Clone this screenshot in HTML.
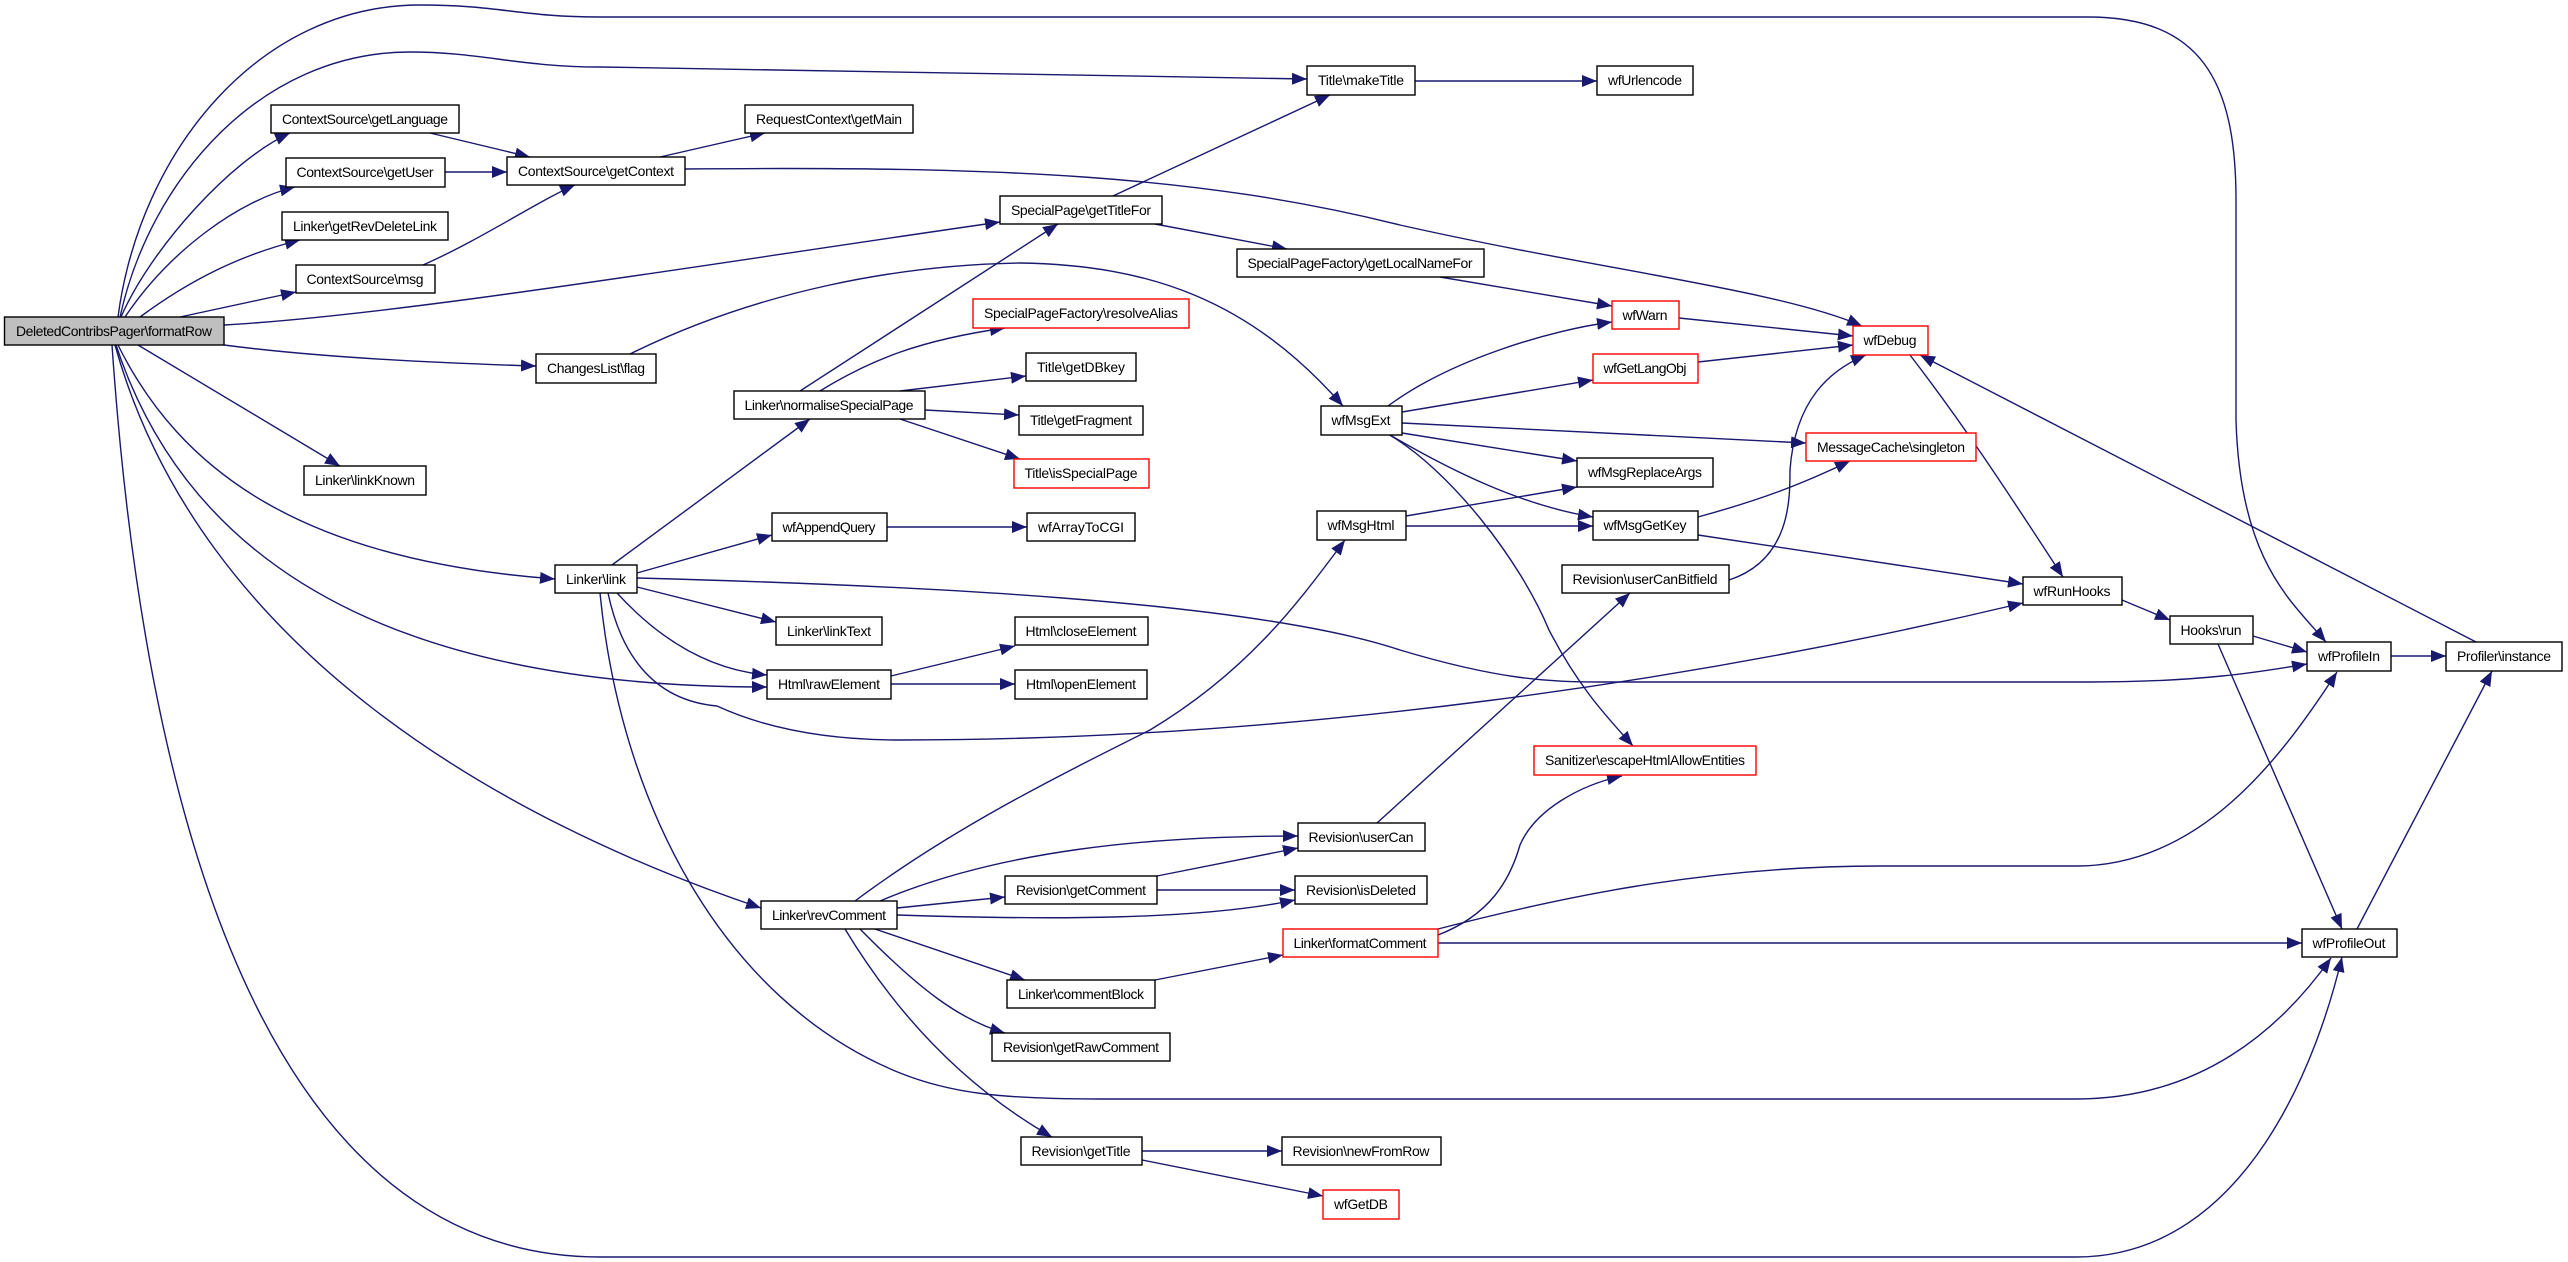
<!DOCTYPE html>
<html><head><meta charset="utf-8"><style>html,body{margin:0;padding:0;background:#fff}svg{display:block}text{font-family:"Liberation Sans",Arial,sans-serif;font-size:14px;fill:#000}</style></head><body>
<svg width="2568" height="1262" viewBox="0 0 2568 1262" xmlns="http://www.w3.org/2000/svg">
<defs><marker id="a" markerUnits="userSpaceOnUse" markerWidth="16" markerHeight="12" refX="15" refY="6" orient="auto"><path d="M0,0 L15,6 L0,12 z" fill="#191970"/></marker></defs>
<g fill="none" stroke="#191970" stroke-width="1.4" marker-end="url(#a)">
<path d="M118,317 C140,150 260,5 420,5 C500,5 520,17 600,17 L2088,17 C2200,17 2236,80 2236,200 L2236,420 C2240,560 2290,600 2326,642"/>
<path d="M120,317 C150,180 260,52 410,52 C480,52 520,67 600,67 L1307,79"/>
<path d="M121,317 C150,250 230,160 290,133"/>
<path d="M125,317 C170,250 240,200 295,187"/>
<path d="M140,317 C190,280 240,255 300,240"/>
<path d="M180,317 L296,292"/>
<path d="M224,325 C400,315 700,265 1000,222"/>
<path d="M224,345 C300,355 400,362 536,366"/>
<path d="M138,345 L340,466"/>
<path d="M118,345 C180,470 300,560 555,579"/>
<path d="M116,345 C200,600 450,687 767,687"/>
<path d="M115,345 C200,650 500,820 761,908"/>
<path d="M112,345 C150,900 300,1257 600,1257 L2076,1257 C2250,1257 2320,1050 2342,957"/>
<path d="M430,133 L530,157"/>
<path d="M445,172 L507,172"/>
<path d="M423,265 C480,240 540,200 575,185"/>
<path d="M660,157 L765,133"/>
<path d="M685,169 C1000,166 1200,175 1400,225 C1600,270 1780,290 1862,326"/>
<path d="M1113,196 L1330,95"/>
<path d="M1155,224 L1287,249"/>
<path d="M1440,277 L1612,306"/>
<path d="M1415,81 L1597,81"/>
<path d="M630,354 C760,290 900,265 1020,263 C1150,265 1250,300 1343,406"/>
<path d="M800,391 L1058,224"/>
<path d="M820,391 C870,360 920,340 1005,328"/>
<path d="M900,391 L1026,376"/>
<path d="M925,410 L1019,415"/>
<path d="M900,419 L1020,459"/>
<path d="M612,565 L810,419"/>
<path d="M637,573 L772,535"/>
<path d="M637,587 L776,622"/>
<path d="M617,593 C660,640 710,670 767,675"/>
<path d="M637,578 C900,585 1250,600 1400,650 C1500,680 1550,682 1600,682 L2090,682 C2200,682 2260,672 2307,664"/>
<path d="M608,593 C620,650 650,700 717,706 C780,735 850,740 900,740 C1300,740 1700,680 2023,603"/>
<path d="M600,593 C620,800 720,1000 900,1073 C950,1093 1000,1099 1100,1099 L2076,1099 C2200,1099 2280,1030 2331,958"/>
<path d="M891,676 L1015,646"/>
<path d="M891,684 L1015,684"/>
<path d="M887,527 L1027,527"/>
<path d="M855,901 C950,830 1050,780 1150,730 C1250,670 1300,600 1345,540"/>
<path d="M880,901 C1000,850 1150,836 1298,836"/>
<path d="M897,908 L1005,897"/>
<path d="M897,915 C1050,920 1200,920 1295,900"/>
<path d="M875,929 L1025,980"/>
<path d="M860,929 C920,990 960,1020 1005,1033"/>
<path d="M845,929 C900,1020 970,1090 1052,1137"/>
<path d="M1157,876 L1298,848"/>
<path d="M1157,890 L1295,890"/>
<path d="M1155,980 L1283,955"/>
<path d="M1438,935 C1490,915 1510,880 1520,845 C1535,810 1580,785 1622,776"/>
<path d="M1438,929 C1550,900 1700,866 1880,866 L2076,866 C2200,866 2280,760 2337,672"/>
<path d="M1438,943 L2302,943"/>
<path d="M1142,1151 L1282,1151"/>
<path d="M1142,1160 L1323,1196"/>
<path d="M1377,823 L1630,593"/>
<path d="M1729,580 C1790,560 1790,500 1790,470 C1795,400 1830,370 1866,355"/>
<path d="M1388,406 C1450,360 1550,330 1612,322"/>
<path d="M1402,412 L1593,380"/>
<path d="M1402,423 L1806,443"/>
<path d="M1402,433 L1577,461"/>
<path d="M1390,435 C1450,470 1520,505 1593,517"/>
<path d="M1388,434 C1450,470 1520,560 1549,630 C1580,690 1610,720 1633,746"/>
<path d="M1406,516 L1577,487"/>
<path d="M1406,526 L1593,526"/>
<path d="M1698,517 C1760,500 1800,485 1850,461"/>
<path d="M1698,535 L2023,584"/>
<path d="M1679,318 L1853,336"/>
<path d="M1698,362 L1853,345"/>
<path d="M1910,355 C1960,420 2000,480 2063,577"/>
<path d="M2476,642 L1920,355"/>
<path d="M2122,600 L2170,620"/>
<path d="M2253,636 L2307,652"/>
<path d="M2218,644 L2342,929"/>
<path d="M2391,656 L2446,656"/>
<path d="M2357,929 L2492,671"/>
</g>
<g stroke-width="1.4">
<rect x="4.5" y="317" width="219.5" height="28" fill="#bfbfbf" stroke="#000"/>
<g fill="#fff" stroke="#000">
<rect x="271" y="105" width="188" height="28"/>
<rect x="286" y="158" width="159" height="29"/>
<rect x="282" y="212" width="166" height="28"/>
<rect x="296" y="265" width="139" height="28"/>
<rect x="507" y="157" width="178" height="28"/>
<rect x="745" y="105" width="168" height="28"/>
<rect x="536" y="354" width="120" height="29"/>
<rect x="734" y="391" width="191" height="28"/>
<rect x="304" y="466" width="122" height="29"/>
<rect x="555" y="565" width="82" height="28"/>
<rect x="772" y="513" width="115" height="28"/>
<rect x="776" y="617" width="106" height="28"/>
<rect x="767" y="670" width="124" height="29"/>
<rect x="1307" y="66" width="108" height="29"/>
<rect x="1597" y="66" width="96" height="29"/>
<rect x="1000" y="196" width="162" height="28"/>
<rect x="1237" y="249" width="247" height="28"/>
<rect x="1026" y="353" width="110" height="28"/>
<rect x="1019" y="406" width="124" height="29"/>
<rect x="1027" y="513" width="108" height="28"/>
<rect x="1321" y="406" width="81" height="29"/>
<rect x="1577" y="458" width="136" height="29"/>
<rect x="1317" y="511" width="89" height="29"/>
<rect x="1593" y="511" width="105" height="29"/>
<rect x="1562" y="565" width="167" height="28"/>
<rect x="1015" y="617" width="133" height="28"/>
<rect x="1015" y="670" width="132" height="29"/>
<rect x="2023" y="577" width="99" height="28"/>
<rect x="2170" y="616" width="83" height="28"/>
<rect x="2307" y="642" width="84" height="29"/>
<rect x="2446" y="642" width="116" height="29"/>
<rect x="2302" y="929" width="95" height="28"/>
<rect x="1298" y="823" width="127" height="28"/>
<rect x="1005" y="876" width="152" height="28"/>
<rect x="1295" y="876" width="132" height="28"/>
<rect x="1007" y="980" width="148" height="28"/>
<rect x="992" y="1033" width="178" height="28"/>
<rect x="1021" y="1137" width="121" height="28"/>
<rect x="1282" y="1137" width="159" height="28"/>
<rect x="761" y="901" width="136" height="28"/>
</g>
<g fill="#fff" stroke="#f00">
<rect x="973" y="299" width="216" height="29"/>
<rect x="1014" y="459" width="135" height="29"/>
<rect x="1612" y="301" width="67" height="28"/>
<rect x="1593" y="354" width="105" height="29"/>
<rect x="1853" y="326" width="75" height="29"/>
<rect x="1806" y="433" width="170" height="28"/>
<rect x="1534" y="746" width="222" height="29"/>
<rect x="1283" y="929" width="155" height="28"/>
<rect x="1323" y="1190" width="76" height="29"/>
</g>
</g>
<g text-anchor="middle" lengthAdjust="spacingAndGlyphs">
<text x="114" y="336" textLength="196">DeletedContribsPager\formatRow</text>
<text x="365" y="124" textLength="166">ContextSource\getLanguage</text>
<text x="365" y="177" textLength="137">ContextSource\getUser</text>
<text x="365" y="231" textLength="144">Linker\getRevDeleteLink</text>
<text x="365" y="284" textLength="117">ContextSource\msg</text>
<text x="596" y="176" textLength="156">ContextSource\getContext</text>
<text x="829" y="124" textLength="146">RequestContext\getMain</text>
<text x="596" y="373" textLength="98">ChangesList\flag</text>
<text x="829" y="410" textLength="169">Linker\normaliseSpecialPage</text>
<text x="365" y="485" textLength="100">Linker\linkKnown</text>
<text x="596" y="584" textLength="60">Linker\link</text>
<text x="829" y="532" textLength="93">wfAppendQuery</text>
<text x="829" y="636" textLength="84">Linker\linkText</text>
<text x="829" y="689" textLength="102">Html\rawElement</text>
<text x="1361" y="85" textLength="86">Title\makeTitle</text>
<text x="1645" y="85" textLength="74">wfUrlencode</text>
<text x="1081" y="215" textLength="140">SpecialPage\getTitleFor</text>
<text x="1360" y="268" textLength="225">SpecialPageFactory\getLocalNameFor</text>
<text x="1081" y="318" textLength="194">SpecialPageFactory\resolveAlias</text>
<text x="1081" y="372" textLength="88">Title\getDBkey</text>
<text x="1081" y="425" textLength="102">Title\getFragment</text>
<text x="1081" y="478" textLength="113">Title\isSpecialPage</text>
<text x="1081" y="532" textLength="86">wfArrayToCGI</text>
<text x="1361" y="425" textLength="59">wfMsgExt</text>
<text x="1645" y="320" textLength="45">wfWarn</text>
<text x="1645" y="373" textLength="83">wfGetLangObj</text>
<text x="1645" y="477" textLength="114">wfMsgReplaceArgs</text>
<text x="1361" y="530" textLength="67">wfMsgHtml</text>
<text x="1645" y="530" textLength="83">wfMsgGetKey</text>
<text x="1645" y="584" textLength="145">Revision\userCanBitfield</text>
<text x="1081" y="636" textLength="111">Html\closeElement</text>
<text x="1081" y="689" textLength="110">Html\openElement</text>
<text x="1890" y="345" textLength="53">wfDebug</text>
<text x="1891" y="452" textLength="148">MessageCache\singleton</text>
<text x="2072" y="596" textLength="77">wfRunHooks</text>
<text x="2211" y="635" textLength="61">Hooks\run</text>
<text x="2349" y="661" textLength="62">wfProfileIn</text>
<text x="2504" y="661" textLength="94">Profiler\instance</text>
<text x="2349" y="948" textLength="73">wfProfileOut</text>
<text x="1645" y="765" textLength="200">Sanitizer\escapeHtmlAllowEntities</text>
<text x="1361" y="842" textLength="105">Revision\userCan</text>
<text x="1081" y="895" textLength="130">Revision\getComment</text>
<text x="1361" y="895" textLength="110">Revision\isDeleted</text>
<text x="1360" y="948" textLength="133">Linker\formatComment</text>
<text x="1081" y="999" textLength="126">Linker\commentBlock</text>
<text x="1081" y="1052" textLength="156">Revision\getRawComment</text>
<text x="1081" y="1156" textLength="99">Revision\getTitle</text>
<text x="1361" y="1156" textLength="137">Revision\newFromRow</text>
<text x="1361" y="1209" textLength="54">wfGetDB</text>
<text x="829" y="920" textLength="114">Linker\revComment</text>
</g>
</svg>
</body></html>
